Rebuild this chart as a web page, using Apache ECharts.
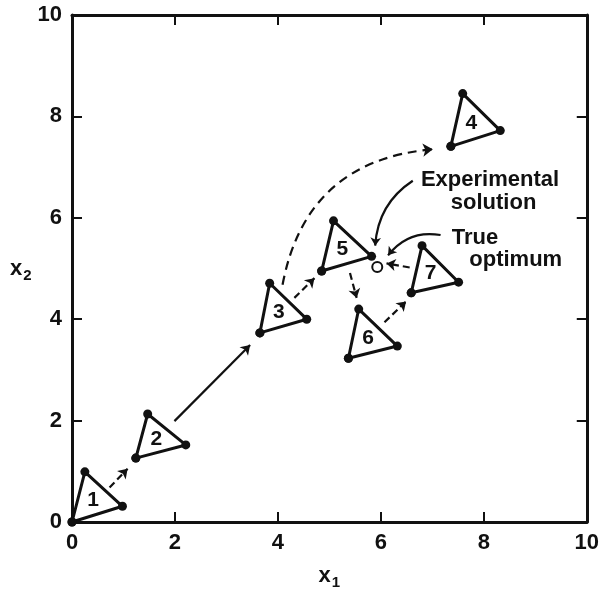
<!DOCTYPE html>
<html>
<head>
<meta charset="utf-8">
<script src="https://cdn.jsdelivr.net/npm/echarts@6/dist/echarts.min.js"></script>
<style>
  html, body { margin: 0; padding: 0; background: #fff; }
  #chart { width: 602px; height: 595px; }
</style>
</head>
<body>
<div id="chart"></div>
<script>
// Axis ticks (both factors run 0..10)
const axisTicks = [0, 2, 4, 6, 8, 10];

// Vertices of each simplex, in (x1, x2)
const simplex1 = [[0.00, 0.00], [0.25, 0.99], [0.98, 0.31]];
const simplex2 = [[1.24, 1.26], [1.47, 2.13], [2.21, 1.52]];
const simplex3 = [[3.65, 3.73], [3.84, 4.71], [4.56, 4.00]];
const simplex4 = [[7.36, 7.41], [7.59, 8.45], [8.32, 7.72]];
const simplex5 = [[4.85, 4.95], [5.08, 5.94], [5.82, 5.24]];
const simplex6 = [[5.37, 3.23], [5.57, 4.20], [6.32, 3.47]];
const simplex7 = [[6.59, 4.52], [6.80, 5.45], [7.51, 4.73]];
const simplexNames = ['1', '2', '3', '4', '5', '6', '7'];

// True optimum (open circle)
const trueOptimum = [5.93, 5.03];

// Moves between simplexes: start, end, dashed or solid
const moveFrom = [[0.73, 0.68], [1.99, 1.99], [4.32, 4.42], [5.40, 4.91], [6.07, 3.94], [6.56, 5.02]];
const moveTo   = [[1.08, 1.05], [3.46, 3.49], [4.71, 4.81], [5.53, 4.42], [6.49, 4.35], [6.11, 5.10]];
const moveDashed = [true, false, true, true, true, true];

// Long excursion from simplex 3 to simplex 4
const jumpFrom = [4.09, 4.68];
const jumpTo = [7.01, 7.35];

// Callout pointers
const expPointerFrom = [6.62, 6.73];
const expPointerTo = [5.89, 5.45];
const optPointerFrom = [7.16, 5.66];
const optPointerTo = [6.14, 5.26];

const simplexes = [simplex1, simplex2, simplex3, simplex4, simplex5, simplex6, simplex7];
const FONT = 'Liberation Sans';
const INK = '#111';

function centroid(v) {
  return [(v[0][0] + v[1][0] + v[2][0]) / 3, (v[0][1] + v[1][1] + v[2][1]) / 3];
}

const triangleSeries = simplexes.map(v => ({
  type: 'line',
  data: [v[0], v[1], v[2], v[0]],
  symbol: 'circle',
  symbolSize: 9,
  showSymbol: true,
  itemStyle: { color: INK, opacity: 1 },
  lineStyle: { color: INK, width: 3 },
  z: 5,
  silent: true
}));

const moveLines = moveFrom.map((p, i) => ({
  coords: [p, moveTo[i]],
  lineStyle: { type: moveDashed[i] ? [7, 4] : 'solid' }
}));

const textStyle = { fontFamily: FONT, fontSize: 22, fontWeight: 'bold', color: INK };

const option = {
  animation: false,
  backgroundColor: '#fff',
  grid: { left: 72, right: 12, top: 15, bottom: 63 },
  xAxis: [
    {
      type: 'value', min: axisTicks[0], max: axisTicks[axisTicks.length - 1], interval: 2,
      position: 'bottom',
      name: '{v|x}{s|1}', nameLocation: 'middle', nameGap: 39,
      nameTextStyle: { rich: {
        v: { fontFamily: FONT, fontSize: 22, fontWeight: 'bold', color: INK },
        s: { fontFamily: FONT, fontSize: 15, fontWeight: 'bold', color: INK, padding: [14, 0, 0, 1] }
      } },
      axisLine: { onZero: false, lineStyle: { color: INK, width: 3 } },
      axisTick: { inside: true, length: 10, lineStyle: { color: INK, width: 2 } },
      axisLabel: Object.assign({ margin: 10 }, textStyle),
      splitLine: { show: false }
    },
    {
      type: 'value', min: 0, max: 10, interval: 2, position: 'top',
      axisLine: { onZero: false, lineStyle: { color: INK, width: 3 } },
      axisTick: { inside: true, length: 10, lineStyle: { color: INK, width: 2 } },
      axisLabel: { show: false },
      splitLine: { show: false }
    }
  ],
  yAxis: [
    {
      type: 'value', min: axisTicks[0], max: axisTicks[axisTicks.length - 1], interval: 2,
      position: 'left',
      name: '{v|x}{s|2}', nameLocation: 'middle', nameGap: 27, nameRotate: 0,
      nameTextStyle: { rich: {
        v: { fontFamily: FONT, fontSize: 22, fontWeight: 'bold', color: INK },
        s: { fontFamily: FONT, fontSize: 15, fontWeight: 'bold', color: INK, padding: [14, 0, 0, 1] }
      } },
      axisLine: { onZero: false, lineStyle: { color: INK, width: 3 } },
      axisTick: { inside: true, length: 10, lineStyle: { color: INK, width: 2 } },
      axisLabel: Object.assign({ margin: 10 }, textStyle),
      splitLine: { show: false }
    },
    {
      type: 'value', min: 0, max: 10, interval: 2, position: 'right',
      axisLine: { onZero: false, lineStyle: { color: INK, width: 3 } },
      axisTick: { inside: true, length: 10, lineStyle: { color: INK, width: 2 } },
      axisLabel: { show: false },
      splitLine: { show: false }
    }
  ],
  series: [
    ...triangleSeries,
    {
      // simplex numbers, at each triangle's centroid
      type: 'scatter',
      symbolSize: 0,
      itemStyle: { opacity: 1 },
      data: simplexes.map((v, i) => ({ value: centroid(v), name: simplexNames[i] })),
      label: Object.assign({ show: true, position: 'inside', formatter: p => p.name },
        textStyle, { fontSize: 21 }),
      z: 6, silent: true
    },
    {
      type: 'scatter',
      data: [trueOptimum],
      symbol: 'circle',
      symbolSize: 10,
      itemStyle: { color: '#fff', borderColor: INK, borderWidth: 2, opacity: 1 },
      z: 7, silent: true
    },
    {
      type: 'lines',
      coordinateSystem: 'cartesian2d',
      symbol: ['none', 'arrow'],
      symbolSize: 9,
      lineStyle: { color: INK, width: 2.2, opacity: 1, curveness: 0 },
      data: moveLines,
      z: 4, silent: true
    },
    {
      type: 'lines',
      coordinateSystem: 'cartesian2d',
      symbol: ['none', 'arrow'],
      symbolSize: 10,
      lineStyle: { color: INK, width: 2.2, opacity: 1, type: [9, 6], curveness: 0.38 },
      data: [{ coords: [jumpFrom, jumpTo] }],
      z: 4, silent: true
    },
    {
      type: 'lines',
      coordinateSystem: 'cartesian2d',
      symbol: ['none', 'arrow'],
      symbolSize: 8,
      lineStyle: { color: INK, width: 2.2, opacity: 1 },
      data: [
        { coords: [expPointerFrom, expPointerTo], lineStyle: { curveness: -0.25 } },
        { coords: [optPointerFrom, optPointerTo], lineStyle: { curveness: -0.3 } }
      ],
      z: 4, silent: true
    },
    {
      // callout text
      type: 'scatter',
      symbolSize: 0,
      itemStyle: { opacity: 1 },
      data: [
        { value: [8.12, 6.75], name: 'Experimental' },
        { value: [8.19, 6.29], name: 'solution' },
        { value: [7.83, 5.61], name: 'True' },
        { value: [8.62, 5.16], name: 'optimum' }
      ],
      label: Object.assign({ show: true, position: 'inside', formatter: p => p.name }, textStyle),
      z: 6, silent: true
    }
  ]
};

const chart = echarts.init(document.getElementById('chart'), null, { renderer: 'canvas' });
chart.setOption(option);
</script>
</body>
</html>
